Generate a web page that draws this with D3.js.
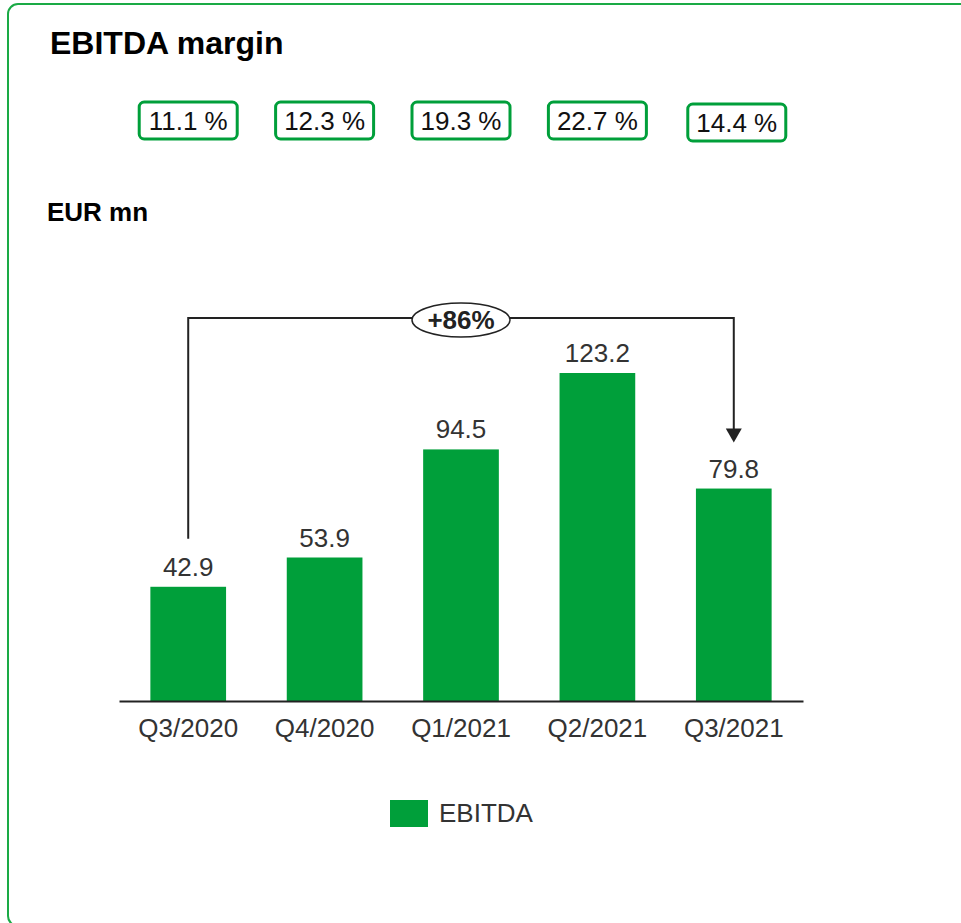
<!DOCTYPE html>
<html>
<head>
<meta charset="utf-8">
<script src="https://cdn.jsdelivr.net/npm/d3@7"></script>
<style>
  body { margin: 0; background: #fff; }
  text { font-family: "Liberation Sans", Arial, sans-serif; }
</style>
</head>
<body>
<div id="chart"></div>
<script>
const quarters = ["Q3/2020", "Q4/2020", "Q1/2021", "Q2/2021", "Q3/2021"];
const ebitda = [42.9, 53.9, 94.5, 123.2, 79.8];
const margins = ["11.1 %", "12.3 %", "19.3 %", "22.7 %", "14.4 %"];
const growthLabel = "+86%";

const width = 961;
const height = 923;
const green = "#009f3a";
const fs = 26;

const svg = d3.select("#chart")
	.append("svg")
	.attr("width", width)
	.attr("height", height);

// outer frame, runs off the right and bottom edges
svg.append("rect")
	.attr("x", 8)
	.attr("y", 4)
	.attr("width", 990)
	.attr("height", 922)
	.attr("rx", 10)
	.attr("fill", "none")
	.attr("stroke", "#1aaa45")
	.attr("stroke-width", 2);

svg.append("text")
	.attr("x", 50)
	.attr("y", 54)
	.attr("font-size", 32)
	.attr("font-weight", "bold")
	.text("EBITDA margin");

svg.append("text")
	.attr("x", 47)
	.attr("y", 221)
	.attr("font-size", fs)
	.attr("font-weight", "bold")
	.text("EUR mn");

const x = d3.scaleBand()
	.domain(quarters)
	.range([119, 803])
	.paddingInner(0.445)
	.paddingOuter(0.23);

const y = d3.scaleLinear()
	.domain([0, 123.2])
	.range([701, 373]);

// margin boxes
const mg = svg.append("g").attr("class", "margins");
margins.forEach(function (m, i) {
	var cx = x(quarters[i]) + x.bandwidth() / 2;
	var dy = i === 4 ? 2 : 0;
	if (i === 4) cx += 3;
	mg.append("rect")
		.attr("x", cx - 49)
		.attr("y", 102 + dy)
		.attr("width", 98)
		.attr("height", 37)
		.attr("rx", 5)
		.attr("fill", "#fff")
		.attr("stroke", green)
		.attr("stroke-width", 3);
	mg.append("text")
		.attr("x", cx)
		.attr("y", 130 + dy)
		.attr("text-anchor", "middle")
		.attr("font-size", fs)
		.attr("fill", "#111")
		.text(m);
});

// bars
svg.append("g")
	.selectAll("rect")
	.data(ebitda)
	.enter()
	.append("rect")
	.attr("x", function (d, i) { return x(quarters[i]); })
	.attr("y", function (d) { return y(d); })
	.attr("width", x.bandwidth())
	.attr("height", function (d) { return y(0) - y(d); })
	.attr("fill", green);

svg.append("g")
	.selectAll("text")
	.data(ebitda)
	.enter()
	.append("text")
	.attr("x", function (d, i) { return x(quarters[i]) + x.bandwidth() / 2; })
	.attr("y", function (d) { return y(d) - 11; })
	.attr("text-anchor", "middle")
	.attr("font-size", fs)
	.attr("fill", "#333")
	.text(function (d) { return d.toFixed(1); });

// x axis
const xAxis = svg.append("g")
	.attr("transform", "translate(0," + y(0) + ")")
	.call(d3.axisBottom(x).tickSize(0).tickPadding(0));
xAxis.select(".domain")
	.attr("stroke", "#222")
	.attr("stroke-width", 2);
xAxis.selectAll("text")
	.attr("font-size", fs)
	.attr("font-family", "Liberation Sans, Arial, sans-serif")
	.attr("fill", "#333")
	.attr("y", 36)
	.attr("dy", null);

// growth bracket
const first = quarters[0], last = quarters[quarters.length - 1];
const x1 = x(first) + x.bandwidth() / 2;
const x2 = x(last) + x.bandwidth() / 2;
const topY = 318;
const tipY = y(ebitda[4]) - 46;

svg.append("path")
	.attr("d", "M" + x1 + "," + (y(ebitda[0]) - 48) + " V" + topY + " H" + x2 + " V" + (tipY - 6))
	.attr("fill", "none")
	.attr("stroke", "#222")
	.attr("stroke-width", 2);

// arrow head
svg.append("path")
	.attr("d", "M" + (x2 - 8) + "," + (tipY - 14) + " L" + (x2 + 8) + "," + (tipY - 14) + " L" + x2 + "," + tipY + " Z")
	.attr("fill", "#222");

const midX = x(quarters[2]) + x.bandwidth() / 2;
svg.append("ellipse")
	.attr("cx", midX)
	.attr("cy", topY + 2)
	.attr("rx", 49)
	.attr("ry", 17)
	.attr("fill", "#fff")
	.attr("stroke", "#222")
	.attr("stroke-width", 1.5);
svg.append("text")
	.attr("x", midX)
	.attr("y", topY + 11)
	.attr("text-anchor", "middle")
	.attr("font-size", fs)
	.attr("font-weight", "bold")
	.attr("fill", "#222")
	.text(growthLabel);

// legend
svg.append("rect")
	.attr("x", 390)
	.attr("y", 800)
	.attr("width", 38)
	.attr("height", 27)
	.attr("fill", green);
svg.append("text")
	.attr("x", 439)
	.attr("y", 822)
	.attr("font-size", fs)
	.attr("fill", "#333")
	.text("EBITDA");
</script>
</body>
</html>
